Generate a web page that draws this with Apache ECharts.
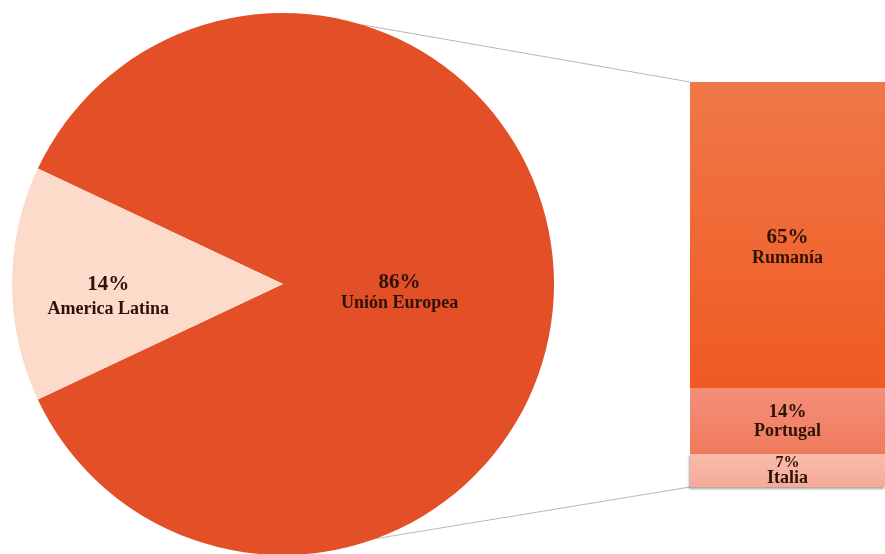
<!DOCTYPE html>
<html>
<head>
<meta charset="utf-8">
<script src="https://cdn.jsdelivr.net/npm/echarts@6/dist/echarts.min.js"></script>
<style>
html,body{margin:0;padding:0;background:#fff;}
#main{width:885px;height:554px;}
</style>
</head>
<body>
<div id="main"></div>
<script>
// ---- data ----
const pieNames = ['Unión Europea', 'America Latina'];
const pieValues = [86, 14];
const barNames = ['Italia', 'Portugal', 'Rumanía'];
const barValues = [7, 14, 65];

// ---- layout / style ----
const pieCenter = [283, 284];
const pieRadius = 271;
const gridLeft = 690, gridTop = 82, gridWidth = 200, gridHeight = 405;
const font = '"Liberation Serif", "Times New Roman", serif';
const txt = '#2e1206';

const pieTotal = pieValues.reduce((a, b) => a + b, 0);
const barTotal = barValues.reduce((a, b) => a + b, 0);
const startAngle = 180 - pieValues[1] / pieTotal * 180;

const pieColors = ['#e34f26', '#fcdbca'];
const barColors = [
  new echarts.graphic.LinearGradient(0, 0, 0, 1, [{offset: 0, color: '#f8bcab'}, {offset: 1, color: '#f6aa95'}]),
  new echarts.graphic.LinearGradient(0, 0, 0, 1, [{offset: 0, color: '#f3907a'}, {offset: 1, color: '#f07a5c'}]),
  new echarts.graphic.LinearGradient(0, 0, 0, 1, [{offset: 0, color: '#f07848'}, {offset: 1, color: '#ef5a22'}])
];
const barLabelStyle = [
  {p: 16, n: 18, lh: 16, off: [0, 0]},
  {p: 19, n: 18, lh: 19, off: [0, 1]},
  {p: 21, n: 18, lh: 20, off: [0, 13]}
];
// label anchor (fraction of radius along x, pixel shift in y) and line height per slice
const pieLabelPos = [
  {fx: 0.43, dy: 9, lh: 20},
  {fx: -0.645, dy: 13, lh: 25}
];

const chart = echarts.init(document.getElementById('main'), null, {renderer: 'canvas'});

const barSeries = barNames.map((name, i) => ({
  type: 'bar',
  name: name,
  stack: 'total',
  barWidth: '100%',
  data: [barValues[i]],
  itemStyle: Object.assign({color: barColors[i]}, i === 0 ? {
    shadowColor: 'rgba(0,0,0,0.35)', shadowBlur: 2, shadowOffsetX: -1, shadowOffsetY: 2
  } : {}),
  label: {
    show: true,
    position: 'inside',
    offset: barLabelStyle[i].off,
    formatter: '{p|' + barValues[i] + '%}\n{n|' + name + '}',
    rich: {
      p: {fontFamily: font, fontWeight: 'bold', fontSize: barLabelStyle[i].p, color: txt, lineHeight: barLabelStyle[i].lh, align: 'center'},
      n: {fontFamily: font, fontWeight: 'bold', fontSize: barLabelStyle[i].n, color: txt, lineHeight: barLabelStyle[i].lh, align: 'center'}
    }
  },
  emphasis: {disabled: true},
  animation: false
}));

chart.setOption({
  animation: false,
  backgroundColor: '#ffffff',
  grid: {left: gridLeft, top: gridTop, width: gridWidth, height: gridHeight, containLabel: false},
  xAxis: {type: 'category', data: ['Unión Europea'], show: false},
  yAxis: {type: 'value', min: 0, max: barTotal, show: false},
  series: [
    {
      type: 'pie',
      center: pieCenter,
      radius: pieRadius,
      startAngle: startAngle,
      clockwise: true,
      data: pieNames.map((n, i) => ({
        name: n, value: pieValues[i], itemStyle: {color: pieColors[i]},
        label: {
          rich: {
            p: {fontFamily: font, fontWeight: 'bold', fontSize: 21, color: txt, lineHeight: pieLabelPos[i].lh, align: 'center'},
            n: {fontFamily: font, fontWeight: 'bold', fontSize: 18, color: txt, lineHeight: pieLabelPos[i].lh, align: 'center'}
          }
        }
      })),
      itemStyle: {borderWidth: 0},
      label: {
        show: true,
        position: 'inside',
        formatter: (p) => '{p|' + p.value + '%}\n{n|' + p.name + '}'
      },
      labelLayout: (params) => ({
        x: pieCenter[0] + pieLabelPos[params.dataIndex].fx * pieRadius,
        y: pieCenter[1] + pieLabelPos[params.dataIndex].dy,
        align: 'center',
        verticalAlign: 'middle'
      }),
      labelLine: {show: false},
      emphasis: {disabled: true},
      z: 3
    }
  ].concat(barSeries)
});

// connector lines from pie to bar, computed from pie geometry and bar scale
const yTop = chart.convertToPixel({yAxisIndex: 0}, barTotal);
const yBot = chart.convertToPixel({yAxisIndex: 0}, 0);
const angTop = 73 * Math.PI / 180, angBot = -70 * Math.PI / 180;
const p1 = [pieCenter[0] + pieRadius * Math.cos(angTop), pieCenter[1] - pieRadius * Math.sin(angTop)];
const p2 = [pieCenter[0] + pieRadius * Math.cos(angBot), pieCenter[1] - pieRadius * Math.sin(angBot)];
chart.setOption({
  graphic: [
    {type: 'line', z: 1, shape: {x1: p1[0], y1: p1[1], x2: gridLeft, y2: yTop}, style: {stroke: '#b8b8b8', lineWidth: 1}},
    {type: 'line', z: 1, shape: {x1: p2[0], y1: p2[1], x2: gridLeft, y2: yBot}, style: {stroke: '#b8b8b8', lineWidth: 1}}
  ]
});
</script>
</body>
</html>
